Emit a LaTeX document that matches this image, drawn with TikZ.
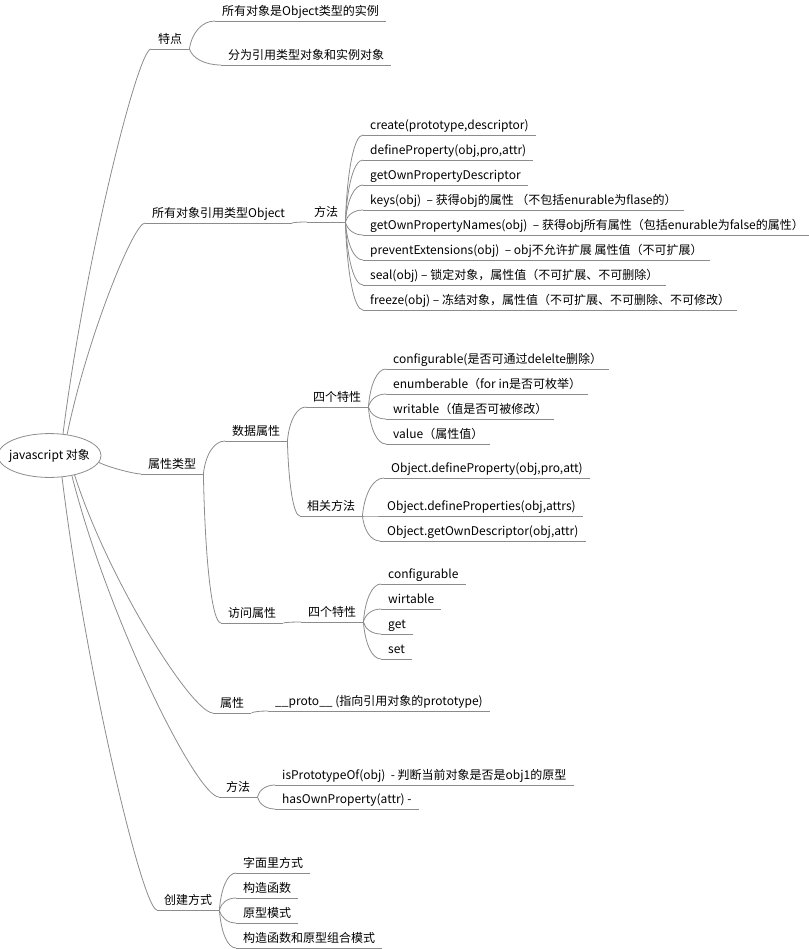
\documentclass[tikz,border=0pt]{standalone}
\usepackage{fontspec}
\setmainfont{Noto Sans CJK SC}
\usepackage{tikz}
\usetikzlibrary{shapes.geometric,calc}

\definecolor{linegray}{HTML}{8C8C8C}

\tikzset{
  line/.style={draw=linegray, line width=0.8pt},
  topic/.style={anchor=south west, inner xsep=7pt, inner ysep=2pt,
    text height=9pt, text depth=3pt, font=\fontsize{12}{14}\selectfont,
    append after command={\pgfextra{\let\topicnode\tikzlastnode}
      (\topicnode.south west) edge[line] (\topicnode.south east)}},
  curve/.style n args={3}{to path={let \p1=(\tikztostart), \p2=(\tikztotarget) in
    .. controls ({\x1+#1*((\x2)-(\x1))},{\y1+#2*((\y2)-(\y1))})
    and ({\x2-#3*((\x2)-(\x1))},{\y2}) .. (\p2)}},
  trunk/.style={curve={0.25}{0.45}{0.15}},
  branch/.style={curve={0.1}{0.6}{0.5}}
}

\begin{document}
\begin{tikzpicture}[x=1pt, y=-1pt]
\useasboundingbox (0,0) rectangle (808,949);

\node[ellipse, line, minimum width=99pt, minimum height=43pt, inner xsep=-4pt, inner ysep=9pt,
  font=\fontsize{12}{14}\selectfont] (root) at (49.5,455.5) {javascript 对象};

% 特点
\node[topic] (feat) at (151,49) {特点};
\node[topic] (feat1) at (215,21) {所有对象是Object类型的实例};
\node[topic] (feat2) at (221,65) {分为引用类型对象和实例对象};

% 所有对象引用类型Object
\node[topic] (objtype) at (145,223) {所有对象引用类型Object};
\node[topic] (objm) at (307,222) {方法};
\node[topic] (objm1) at (363,135) {create(prototype,descriptor)};
\node[topic] (objm2) at (363,160) {defineProperty(obj,pro,attr)};
\node[topic] (objm3) at (363,185) {getOwnPropertyDescriptor};
\node[topic] (objm4) at (363,210) {keys(obj) \ -- 获得obj的属性 （不包括enurable为flase的）};
\node[topic] (objm5) at (363,235) {getOwnPropertyNames(obj) \ -- 获得obj所有属性（包括enurable为false的属性）};
\node[topic] (objm6) at (363,260) {preventExtensions(obj) \ -- obj不允许扩展 属性值（不可扩展）};
\node[topic] (objm7) at (363,285) {seal(obj) -- 锁定对象，属性值（不可扩展、不可删除）};
\node[topic] (objm8) at (363,310) {freeze(obj) -- 冻结对象，属性值（不可扩展、不可删除、不可修改）};

% 属性类型
\node[topic] (ptype) at (141,474) {属性类型};
\node[topic] (data) at (225,441) {数据属性};
\node[topic] (dfour) at (306,407) {四个特性};
\node[topic] (dfour1) at (386,369) {configurable(是否可通过delelte删除）};
\node[topic] (dfour2) at (386,394) {enumberable（for in是否可枚举）};
\node[topic] (dfour3) at (386,419) {writable（值是否可被修改）};
\node[topic] (dfour4) at (386,444) {value（属性值）};
\node[topic] (drel) at (300,516) {相关方法};
\node[topic] (drel1) at (384,478) {Object.defineProperty(obj,pro,att)};
\node[topic] (drel2) at (380,516) {Object.defineProperties(obj,attrs)};
\node[topic] (drel3) at (380,541) {Object.getOwnDescriptor(obj,attr)};
\node[topic] (acc) at (221,623) {访问属性};
\node[topic] (afour) at (301,622) {四个特性};
\node[topic] (afour1) at (381,584) {configurable};
\node[topic] (afour2) at (381,609) {wirtable};
\node[topic] (afour3) at (381,634) {get};
\node[topic] (afour4) at (381,659) {set};

% 属性
\node[topic] (prop) at (213,713) {属性};
\node[topic] (prop1) at (268,711) {\_\_proto\_\_ (指向引用对象的prototype)};

% 方法
\node[topic] (meth) at (219,797) {方法};
\node[topic] (meth1) at (275,785) {isPrototypeOf(obj) \ - 判断当前对象是否是obj1的原型};
\node[topic] (meth2) at (275,809) {hasOwnProperty(attr) -};

% 创建方式
\node[topic] (make) at (157,910) {创建方式};
\node[topic] (make1) at (236,873) {字面里方式};
\node[topic] (make2) at (236,898) {构造函数};
\node[topic] (make3) at (236,923) {原型模式};
\node[topic] (make4) at (236,948) {构造函数和原型组合模式};

\draw[line] (root.58) to[trunk] (feat.south west);
\draw[line] (root.50) to[trunk] (objtype.south west);
\draw[line] (root.-8) to[trunk] (ptype.south west);
\draw[line] (root.-38) to[trunk] (prop.south west);
\draw[line] (root.-42) to[trunk] (meth.south west);
\draw[line] (root.-60) to[trunk] (make.south west);

\draw[line] (feat.south east) to[branch] (feat1.south west);
\draw[line] (feat.south east) to[branch] (feat2.south west);

\draw[line] (objtype.south east) to[branch] (objm.south west);
\draw[line] (objm.south east) to[branch] (objm1.south west);
\draw[line] (objm.south east) to[branch] (objm2.south west);
\draw[line] (objm.south east) to[branch] (objm3.south west);
\draw[line] (objm.south east) to[branch] (objm4.south west);
\draw[line] (objm.south east) to[branch] (objm5.south west);
\draw[line] (objm.south east) to[branch] (objm6.south west);
\draw[line] (objm.south east) to[branch] (objm7.south west);
\draw[line] (objm.south east) to[branch] (objm8.south west);

\draw[line] (ptype.south east) to[branch] (data.south west);
\draw[line] (ptype.south east) to[branch] (acc.south west);
\draw[line] (data.south east) to[branch] (dfour.south west);
\draw[line] (data.south east) to[branch] (drel.south west);
\draw[line] (dfour.south east) to[branch] (dfour1.south west);
\draw[line] (dfour.south east) to[branch] (dfour2.south west);
\draw[line] (dfour.south east) to[branch] (dfour3.south west);
\draw[line] (dfour.south east) to[branch] (dfour4.south west);
\draw[line] (drel.south east) to[branch] (drel1.south west);
\draw[line] (drel.south east) to[branch] (drel2.south west);
\draw[line] (drel.south east) to[branch] (drel3.south west);
\draw[line] (acc.south east) to[branch] (afour.south west);
\draw[line] (afour.south east) to[branch] (afour1.south west);
\draw[line] (afour.south east) to[branch] (afour2.south west);
\draw[line] (afour.south east) to[branch] (afour3.south west);
\draw[line] (afour.south east) to[branch] (afour4.south west);

\draw[line] (prop.south east) to[branch] (prop1.south west);
\draw[line] (meth.south east) to[branch] (meth1.south west);
\draw[line] (meth.south east) to[branch] (meth2.south west);

\draw[line] (make.south east) to[branch] (make1.south west);
\draw[line] (make.south east) to[branch] (make2.south west);
\draw[line] (make.south east) to[branch] (make3.south west);
\draw[line] (make.south east) to[branch] (make4.south west);
\end{tikzpicture}
\end{document}
